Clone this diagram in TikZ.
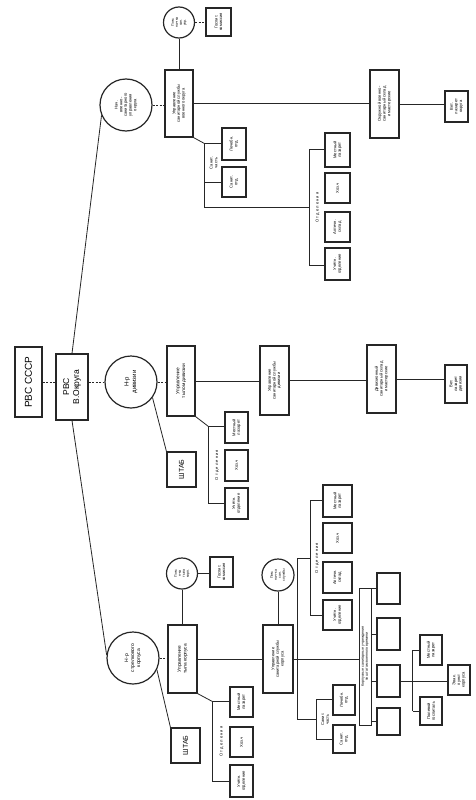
\documentclass[tikz,border=0pt]{standalone}
\usepackage{fontspec}
\setmainfont{Liberation Sans}
\usetikzlibrary{calc}
\tikzset{
    box/.style={draw, line width=1.1pt, rotate=90, inner sep=0.5pt, align=center, font=\fontsize{4.1}{4.7}\selectfont},
    ring/.style={draw, circle, line width=1.2pt, rotate=90, inner sep=0pt, align=center, font=\fontsize{4.1}{4.7}\selectfont},
    lbl/.style={rotate=90, inner sep=0pt, align=center, font=\fontsize{4.1}{4.7}\selectfont},
    sz/.style 2 args={minimum width=#1pt, minimum height=#2pt},
    link/.style={dash pattern=on 2pt off 1.5pt}
}
\begin{document}
\begin{tikzpicture}[x=1pt, y=-1pt, line width=0.8pt, draw=black!85]
    % 背景与边界
    \fill[white] (0,0) rectangle (475,800);
    \useasboundingbox (0,0) rectangle (475,800);

    % 顶层 РВС
    \node[box, sz={70}{27}, line width=1.2pt, font=\fontsize{10}{12}\selectfont] (rvsu) at (28.5,382) {РВС СССР};
    \node[box, sz={66}{32}, line width=1.2pt, font=\fontsize{8.5}{10}\selectfont] (rvs) at (72,387) {РВС\\В.Округа};
    \draw[link] (rvsu.south) -- (rvsu.south -| rvs.north);

    % 上方分支（округ）
    \node[ring, minimum size=52pt] (t0) at (126,105) {Нач.\\военно-\\санитарного\\управления\\округа};
    \node[box, sz={67}{28}] (t1) at (179,103.5) {Управление\\санитарной службы\\военного округа};
    \node[ring, minimum size=31pt, font=\fontsize{3.5}{4}\selectfont] (tc) at (179,22.5) {Пом.\\нач-ка\\сан.\\упр.};
    \node[box, sz={28}{25}] (tg) at (218.5,22) {Госпит.\\комиссия};
    \node[lbl, sz={38}{17}] (tm) at (213.5,163) {Санит.\\часть};
    \node[box, sz={32}{24}] (tma) at (234,144) {Лечебн.\\отд.};
    \node[box, sz={30}{24}] (tmb) at (234,182) {Санит.\\отд.};
    \node[lbl, sz={115}{15}] (to) at (317.5,207.5) {О т д е л е н и я};
    \node[box, sz={34}{25}] (to1) at (337.5,150) {Местный\\лазарет};
    \node[box, sz={30}{25}] (to2) at (337.5,188) {Хоз.ч};
    \node[box, sz={30}{25}] (to3) at (337.5,227) {Аптечн.\\склад};
    \node[box, sz={32}{25}] (to4) at (337.5,264) {Учётн.\\отделение};
    \node[box, sz={68}{29}] (t2) at (384.5,104) {Окружной военно-\\санитарный склад\\и мастерские};
    \node[box, sz={31}{23}] (t3) at (456.5,106.5) {Вет.\\лазарет\\округа};

    \draw (rvs.east) -- (t0.113);
    \draw[link] (t0.south) -- (t0.south -| t1.north);
    \draw (tc.west) -- (tc.west |- t1.east);
    \draw[link] (tc.south) -- (tc.south -| tg.north);
    \draw (t1.south) -- (t1.south -| t2.north);
    \draw (t2.south) -- (t2.south -| t3.north);
    \draw (t1.south west) -- (tm.north east);
    \draw (tm.south east) -- (tm.north east) -- (tm.north west) -- (tm.south west);
    \draw (tm.north west) |- (to.north);
    \draw (to.south east) -- (to.north east) -- (to.north west) -- (to.south west);

    % 中间分支（дивизия）
    \node[ring, minimum size=52pt, font=\fontsize{6}{7.5}\selectfont] (m0) at (131,382) {Н-р\\дивизии};
    \node[box, sz={70}{28}, font=\fontsize{4.8}{5.8}\selectfont] (m1) at (181,381) {Управление\\тылом дивизии};
    \node[box, sz={35}{29}, font=\fontsize{7}{8}\selectfont] (ms) at (181.5,469.5) {ШТАБ};
    \node[lbl, sz={76}{16}] (mo) at (217,465) {О т д е л е н и я};
    \node[box, sz={31}{23}] (mo1) at (236.5,427.5) {Местный\\лазарет};
    \node[box, sz={31}{23}] (mo2) at (236.5,465.5) {Хоз.ч};
    \node[box, sz={31}{23}] (mo3) at (236.5,503.5) {Учётн.\\отделение};
    \node[box, sz={69}{29}] (m2) at (274.5,380.5) {Управление\\санитарной службы\\дивизии};
    \node[box, sz={68}{29}] (m3) at (381.5,379) {Дивизионный\\санитарный склад\\и мастерские};
    \node[box, sz={38}{22}] (m4) at (456,384) {Вет.\\лазарет\\дивизии};

    \draw[link] (m0 -| rvs.south) -- (m0.north);
    \draw[link] (m0.south) -- (m0.south -| m1.north);
    \draw (m0.234) -- (ms.north east);
    \draw (m1.south west) -- (mo.north east);
    \draw (mo.south east) -- (mo.north east) -- (mo.north west) -- (mo.south west);
    \draw (m1.south) -- (m1.south -| m2.north);
    \draw (m2.south) -- (m2.south -| m3.north);
    \draw (m3.south) -- (m3.south -| m4.north);

    % 下方分支（корпус）
    \node[ring, minimum size=52pt, font=\fontsize{5}{6}\selectfont] (b0) at (133,658) {Н-р\\стрелкового\\корпуса};
    \node[box, sz={68}{29}, font=\fontsize{4.8}{5.8}\selectfont] (b1) at (182.5,659) {Управление\\тыла корпуса};
    \node[ring, minimum size=31pt, font=\fontsize{3.5}{4}\selectfont] (bc) at (182,573.5) {Пом.\\н-ка\\тыла\\корп.};
    \node[box, sz={30}{23}] (bg) at (221.5,572) {Госпит.\\комиссия};
    \node[box, sz={35}{29}, font=\fontsize{7}{8}\selectfont] (bs) at (185.5,745.5) {ШТАБ};
    \node[lbl, sz={79}{17}] (bo) at (221.5,741.5) {О т д е л е н и я};
    \node[box, sz={30}{23}] (bo1) at (241.5,702) {Местный\\лазарет};
    \node[box, sz={30}{23}] (bo2) at (241.5,742) {Хоз.ч};
    \node[box, sz={32}{23}] (bo3) at (241.5,781) {Учётн.\\отделение};
    \node[box, sz={68}{30}] (b2) at (278,659) {Управление\\санитарной службы\\корпуса};
    \node[ring, minimum size=32pt, font=\fontsize{3.5}{4}\selectfont] (b2c) at (278,575) {Пом.\\нач-ка\\сан.\\службы};
    \node[lbl, sz={114}{12}] (bp) at (317,558) {О т д е л е н и я};
    \node[box, sz={32}{29}] (bp1) at (337.5,501) {Местный\\лазарет};
    \node[box, sz={30}{29}] (bp2) at (337.5,538) {Хоз.ч};
    \node[box, sz={31}{29}] (bp3) at (337.5,577.5) {Аптечн.\\склад};
    \node[box, sz={30}{29}] (bp4) at (337.5,615) {Учётн.\\отделение};
    \node[lbl, sz={39}{16}] (bm) at (325,719.5) {Санит.\\часть};
    \node[box, sz={30}{22}] (bma) at (344,700) {Лечебн.\\отд.};
    \node[box, sz={28}{22}] (bmb) at (344,739) {Санит.\\отд.};
    \node[box, sz={137}{12}, line width=0.9pt, font=\fontsize{3.6}{4.1}\selectfont] (bk) at (365,656.5) {Корпусные санитарные учреждения\\по штатам военного времени};
    \node[box, sz={31}{23}] (be1) at (388.5,588.5) {};
    \node[box, sz={32}{23}] (be2) at (388.5,634) {};
    \node[box, sz={32}{23}] (be3) at (388.5,681) {};
    \node[box, sz={27}{23}] (be4) at (388.5,721.5) {};
    \node[box, sz={30}{22}] (bu) at (431,650) {Местный\\лазарет};
    \node[box, sz={28}{22}] (bd) at (431,711) {Полевой\\госпиталь};
    \node[box, sz={30}{22}] (br) at (459,680) {Эвак.\\пункт\\корпуса};

    \draw (rvs.west) -- (b0.83);
    \draw[link] (b0.south) -- (b0.south -| b1.north);
    \draw (bc.west) -- (bc.west |- b1.east);
    \draw (bc.south) -- (bc.south -| bg.north);
    \draw (b0.244) -- (bs.north east);
    \draw (b1.south west) -- (bo.north east);
    \draw (bo.south east) -- (bo.north east) -- (bo.north west) -- (bo.south west);
    \draw (b1.south) -- (b1.south -| b2.north);
    \draw (b2c.west) -- (b2c.west |- b2.east);
    \draw (b2.south) -- (b2.south -| bk.north);
    \coordinate (bv1) at (297,558);
    \coordinate (bv2) at (297,719.5);
    \draw (bp.north) -- (bv1) -- (bv2) -- (bm.north);
    \draw (bp.south east) -- (bp.north east) -- (bp.north west) -- (bp.south west);
    \draw (bm.south east) -- (bm.north east) -- (bm.north west) -- (bm.south west);
    \foreach \e in {be1,be2,be3,be4}
        \draw (bk.south |- \e) -- (\e.north);
    \draw (be3.south) -- (be3.south -| br.north);
    \coordinate (bj) at ($(be3.south)+(12,0)$);
    \draw (bj |- bu) -- (bj |- bd);
    \draw (bj |- bu) -- (bu.north);
    \draw (bj |- bd) -- (bd.north);
\end{tikzpicture}
\end{document}
